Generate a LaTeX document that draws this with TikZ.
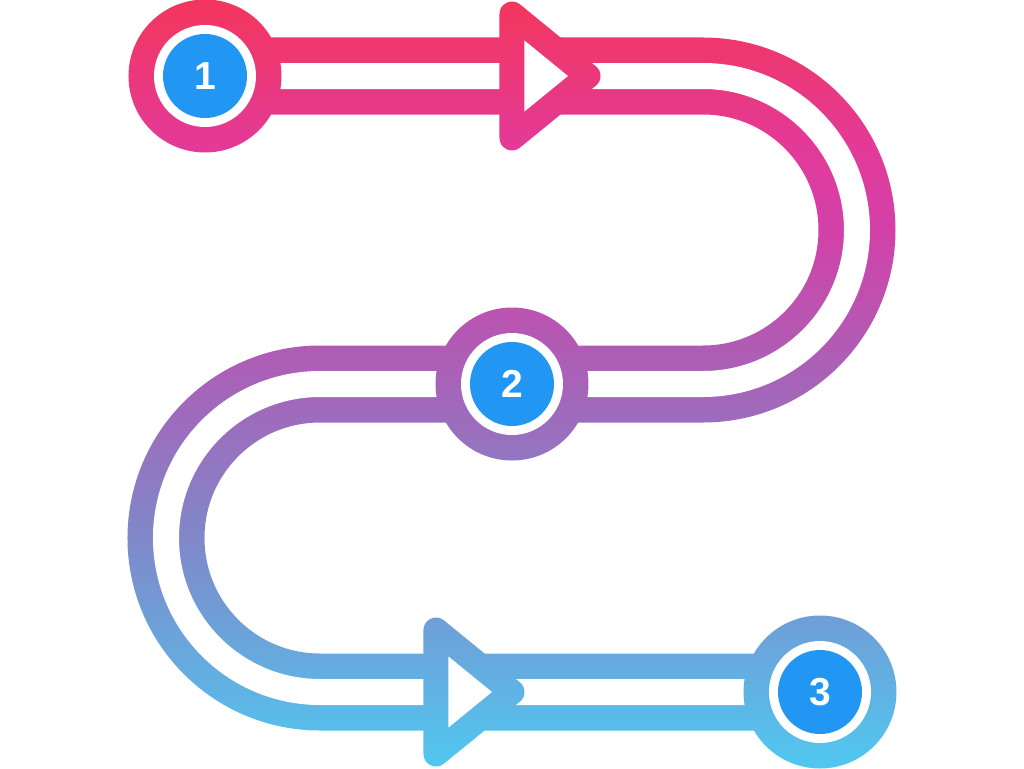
\documentclass[tikz,border=0pt]{standalone}
\usepackage{fontspec}
\setsansfont{Liberation Sans}
\usetikzlibrary{fadings}

\definecolor{stopblue}{HTML}{2196F3}
\pgfdeclareverticalshading{routegrad}{100bp}{rgb(0bp)=(0.314,0.784,0.941); rgb(25bp)=(0.314,0.784,0.941); rgb(40bp)=(0.502,0.533,0.792); rgb(50bp)=(0.651,0.392,0.722); rgb(60bp)=(0.824,0.255,0.659); rgb(65.2bp)=(0.890,0.227,0.604); rgb(75bp)=(0.953,0.212,0.361); rgb(100bp)=(0.953,0.212,0.361)}

\tikzset{
  route/.style={line width=77pt},
  routegap/.style={line width=26pt},
  arrowhead/.style={line width=25pt, line join=round},
  stop/.style={circle, fill=stopblue, text=white, minimum size=84pt, inner sep=0pt,
    font=\sffamily\bfseries\fontsize{39}{39}\selectfont}
}

% the coloured parts of the route, used as a mask for the gradient
\begin{tikzfadingfrompicture}[name=routemask, x=1pt, y=1pt]
  \begin{scope}[shift={(-512,-384)}]
    \useasboundingbox (0,0) rectangle (1024,768);
    \coordinate (A) at (205,692);
    \coordinate (B) at (512,384);
    \coordinate (C) at (820,76);
    \coordinate (R) at (703,692);
    \coordinate (L) at (320,384);
    \draw[route, transparent!0] (A) -- (R) arc[start angle=90, end angle=-90, radius=154]
      -- (B) -- (L) arc[start angle=90, end angle=270, radius=154] -- (C);
    \draw[routegap, transparent!100] (A) -- (R) arc[start angle=90, end angle=-90, radius=154]
      -- (B) -- (L) arc[start angle=90, end angle=270, radius=154] -- (C);
    \draw[arrowhead, draw=transparent!0, fill=transparent!100] (512,754) -- (512,630) -- (588,692) -- cycle;
    \draw[arrowhead, draw=transparent!0, fill=transparent!100] (436,138) -- (436,14) -- (512,76) -- cycle;
    \foreach \p in {A,B,C} {
      \fill[transparent!0] (\p) circle[radius=76.5];
      \fill[transparent!100] (\p) circle[radius=51];
    }
  \end{scope}
\end{tikzfadingfrompicture}

\begin{document}
\begin{tikzpicture}[x=1pt, y=1pt]
  \useasboundingbox (-512,-384) rectangle (512,384);
  \shade[shading=routegrad, path fading=routemask, fit fading=false] (-512,-384) rectangle (512,384);
  \begin{scope}[shift={(-512,-384)}]
    \node[stop] (A) at (205,692) {1};
    \node[stop] (B) at (512,384) {2};
    \node[stop] (C) at (820,76) {3};
  \end{scope}
\end{tikzpicture}
\end{document}
